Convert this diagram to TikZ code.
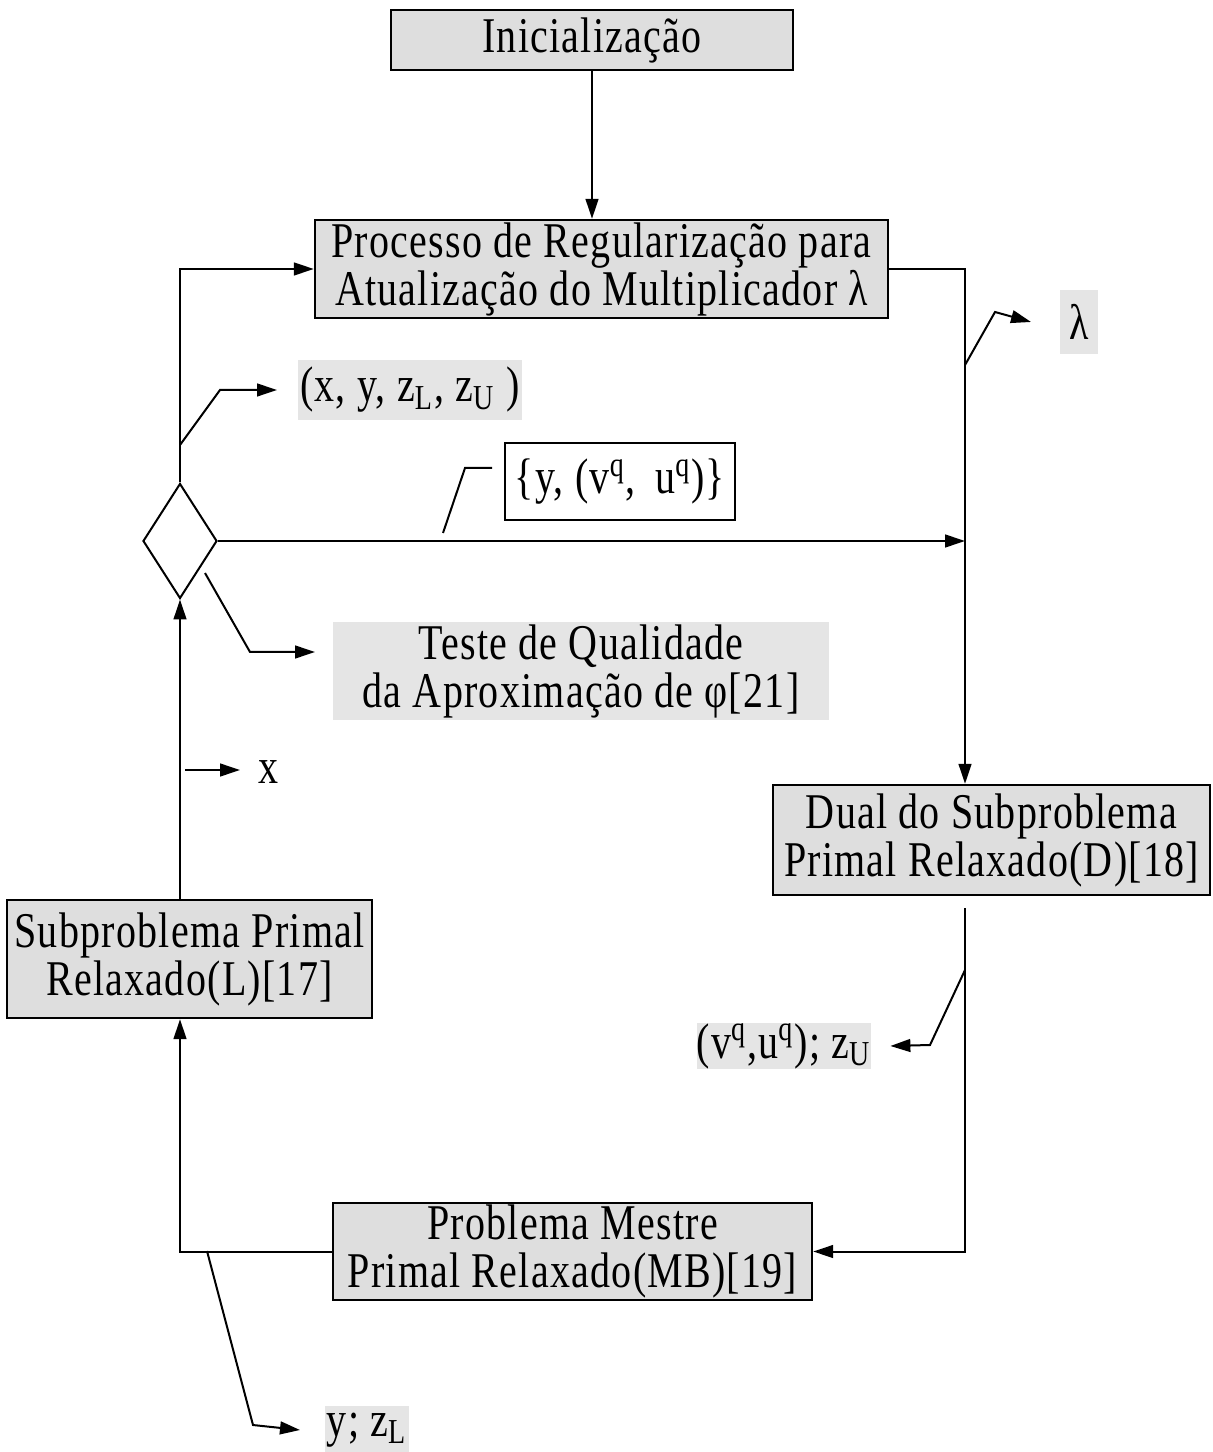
\documentclass[tikz,border=0pt]{standalone}
\usepackage{fontspec}
\setmainfont{Liberation Serif}[FakeStretch=0.8,LetterSpace=2.5]
\usetikzlibrary{arrows.meta,shapes.geometric}

\begin{document}
\begin{tikzpicture}[x=0.25pt,y=-0.25pt,>={Triangle[length=5pt,width=3.2pt]},
  line width=0.5pt,font=\fontsize{12.5}{12}\selectfont,
  blk/.style={draw,line width=0.6pt,fill=black!13,align=center,inner sep=0pt},
  tag/.style={fill=black!10,inner sep=0pt,align=center}]
\useasboundingbox (0,0) rectangle (1212,1452);
% caixas do algoritmo
\node[blk,minimum width=100.5pt,minimum height=15pt] (ini) at (592,40) {Inicialização};
\node[blk,minimum width=143.25pt,minimum height=24.5pt] (proc) at (601.5,269) {Processo de Regularização para\\Atualização do Multiplicador λ};
\node[blk,minimum width=109.25pt,minimum height=27.5pt] (dual) at (991.5,840) {Dual do Subproblema\\Primal Relaxado(D)[18]};
\node[blk,minimum width=91.25pt,minimum height=29.5pt] (sub) at (189.5,959) {Subproblema Primal\\Relaxado(L)[17]};
\node[blk,minimum width=119.75pt,minimum height=24.25pt] (mb) at (572.5,1251.5) {Problema Mestre\\Primal Relaxado(MB)[19]};
\node[draw,diamond,minimum width=18.5pt,minimum height=28.75pt,inner sep=0pt] (dia) at (180,541) {};
\node[draw,minimum width=57.5pt,minimum height=19.25pt,inner sep=0pt] (set) at (620,481.5) {\{y, (v\textsuperscript{q},\, u\textsuperscript{q})\}};
% rotulos
\node[tag,minimum width=124pt,minimum height=24.5pt] (test) at (581,671) {Teste de Qualidade\\da Aproximação de φ[21]};
\node[tag,minimum width=9.5pt,minimum height=16pt] (lam) at (1079,322) {λ};
\node[tag,minimum width=56pt,minimum height=15pt] (xy) at (410,390) {(x, y, z\textsubscript{L}, z\textsubscript{U} )};
\node[tag,minimum width=43pt,minimum height=11pt] (vu) at (784,1046) {(v\textsuperscript{q},u\textsuperscript{q}); z\textsubscript{U}};
\node[tag,minimum width=21pt,minimum height=12pt] (yz) at (367,1430) {y; z\textsubscript{L}};
\node (xl) at (268,772) {x};
\coordinate (rt) at (965,269);
% ligacoes
\draw[->] (ini.south) -- (ini.south |- proc.north);
\draw[->] (dia.north) |- (proc.west);
\draw[->] (proc.east) -- (rt) -- (rt |- dual.north);
\draw[->] (dia.east) -- (dia.east -| rt);
\draw[->] ([yshift=-3pt]dual.south -| rt) |- (mb.east);
\draw[->] (mb.west) -- (mb.west -| dia) -- (sub.south -| dia);
\draw[->] (sub.north -| dia) -- (dia.south);
% marcas
\draw[->] (965,365) -- (995,312) -- ([xshift=-7pt]lam.west);
\draw[->] (180,445) -- (220,390) -- ([xshift=-5pt]xy.west);
\draw (443,533) -- (465,468) -- (492,468);
\draw[->] (205,573) -- (250,652) -- (315,652);
\draw[->] (185,770) -- (240,770);
\draw[->] (965,970) -- (930,1045) -- ([xshift=4.5pt]vu.east);
\draw[->] (207,1251) -- (253,1425) -- ([xshift=-6pt]yz.west);
\end{tikzpicture}
\end{document}
